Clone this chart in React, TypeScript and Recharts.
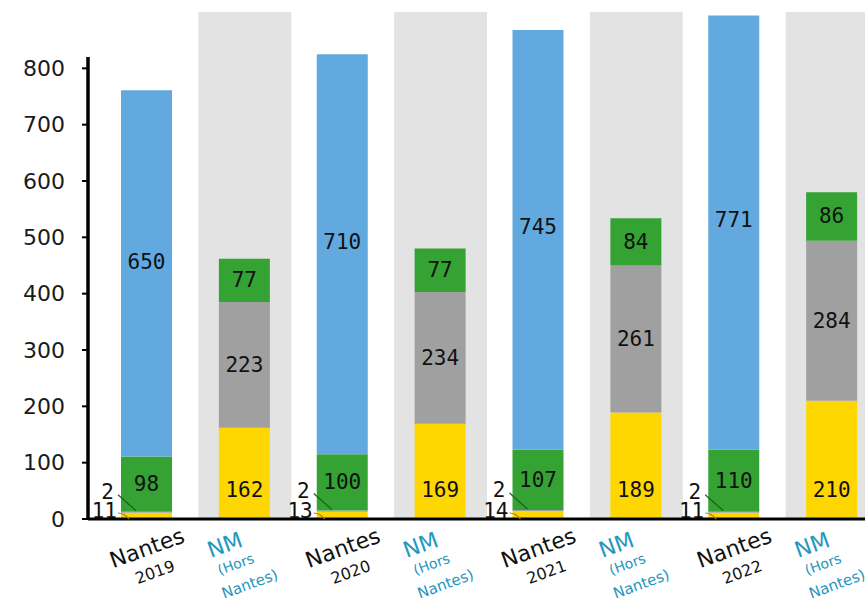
import React from "react";
import { BarChart, Bar, XAxis, YAxis, ReferenceArea, LabelList } from "recharts";

const categories = [
  "Nantes 2019",
  "NM (Hors Nantes) 2019",
  "Nantes 2020",
  "NM (Hors Nantes) 2020",
  "Nantes 2021",
  "NM (Hors Nantes) 2021",
  "Nantes 2022",
  "NM (Hors Nantes) 2022",
];
const yellowValues = [11, 162, 13, 169, 14, 189, 11, 210];
const grayValues = [2, 223, 2, 234, 2, 261, 2, 284];
const greenValues = [98, 77, 100, 77, 107, 84, 110, 86];
const blueValues = [650, null, 710, null, 745, null, 771, null];
const yTicks = [0, 100, 200, 300, 400, 500, 600, 700, 800];

const data = categories.map((cat, i) => ({
  cat,
  yellow: yellowValues[i],
  gray: grayValues[i],
  green: greenValues[i],
  blue: blueValues[i],
}));

const isNantes = (i: number) => categories[i]?.startsWith("Nantes");

const numStyle = {
  fontFamily: "'DejaVu Sans Mono', monospace",
  fontSize: 21,
  fill: "#111",
};

const box = (p: any) => p.viewBox || p;

const yellowLabel = (p: any) => {
  if (p.value == null) return null;
  const { x, y, width, height } = box(p);
  if (isNantes(p.index)) {
    const by = y + height;
    return (
      <g>
        <path
          d={`M${x - 3},${by - 6} Q${x + 3},${by - 6} ${x + 8},${by}`}
          stroke="#b07a00"
          strokeWidth={1.2}
          fill="none"
        />
        <text x={x - 4} y={by - 1} textAnchor="end" {...numStyle}>
          {p.value}
        </text>
      </g>
    );
  }
  return (
    <text x={x + width / 2} y={y + height - 29} textAnchor="middle" dominantBaseline="central" {...numStyle}>
      {p.value}
    </text>
  );
};

const grayLabel = (p: any) => {
  if (p.value == null) return null;
  const { x, y, width, height } = box(p);
  if (isNantes(p.index)) {
    return (
      <g>
        <line x1={x - 3} y1={y - 17} x2={x + 15} y2={y - 1} stroke="#1d5e1d" strokeWidth={1.2} />
        <text x={x - 7} y={y - 13} textAnchor="end" {...numStyle}>
          {p.value}
        </text>
      </g>
    );
  }
  return (
    <text x={x + width / 2} y={y + height / 2} textAnchor="middle" dominantBaseline="central" {...numStyle}>
      {p.value}
    </text>
  );
};

const centerLabel = (p: any) => {
  if (p.value == null) return null;
  const { x, y, width, height } = box(p);
  return (
    <text x={x + width / 2} y={y + height / 2} textAnchor="middle" dominantBaseline="central" {...numStyle}>
      {p.value}
    </text>
  );
};

const blueLabel = (p: any) => {
  if (p.value == null) return null;
  const { x, y, width, height } = box(p);
  return (
    <text x={x + width / 2} y={y + height * 0.47} textAnchor="middle" dominantBaseline="central" {...numStyle}>
      {p.value}
    </text>
  );
};

const XTick = (props: any) => {
  const { x, y, payload } = props;
  const v: string = payload.value;
  const line = (txt: string, dx: number, dy: number, size: number, color: string) => (
    <text
      x={x + dx}
      y={y + dy}
      textAnchor="middle"
      dominantBaseline="central"
      fontFamily="'DejaVu Sans', sans-serif"
      fontSize={size}
      fill={color}
      style={{ transform: "rotate(-20deg)", transformBox: "fill-box", transformOrigin: "center" }}
    >
      {txt}
    </text>
  );
  if (v.startsWith("Nantes")) {
    const year = v.split(" ")[1];
    return (
      <g>
        {line("Nantes", 0, 29, 22, "#111")}
        {line(year, 8, 53, 16, "#111")}
      </g>
    );
  }
  return (
    <g>
      {line("NM", -20, 26, 22, "#2596be")}
      {line("(Hors", -9, 45, 14, "#2596be")}
      {line("Nantes)", 5, 65, 15, "#2596be")}
    </g>
  );
};

const bandShape = (p: any) => (
  <rect x={p.x + 2.5} y={p.y} width={p.width - 5} height={p.height} fill="#e3e3e3" />
);

export default function App() {
  return (
    <div style={{ position: "absolute", left: 0, top: 0, width: 865, height: 603, overflow: "hidden", background: "#fff" }}>
      <BarChart
        width={890}
        height={603}
        data={data}
        margin={{ top: 12, right: 9, bottom: 5, left: 8 }}
      >
        {categories
          .filter((c) => !c.startsWith("Nantes"))
          .map((c) => (
            <ReferenceArea key={c} x1={c} x2={c} y1={0} y2={900} shape={bandShape} ifOverflow="visible" />
          ))}
        <XAxis
          dataKey="cat"
          interval={0}
          padding={{ left: 10, right: 0 }}
          tickLine={false}
          tickSize={0}
          tickMargin={0}
          height={79}
          axisLine={{ stroke: "#000", strokeWidth: 3 }}
          tick={(p: any) => <XTick {...p} />}
        />
        <YAxis
          type="number"
          domain={[0, 900]}
          ticks={yTicks}
          width={80}
          tickSize={6}
          tickMargin={17}
          tickLine={{ stroke: "#000", strokeWidth: 2 }}
          axisLine={{ stroke: "#000", strokeWidth: 3.5, strokeDasharray: "0 45 1000" }}
          tick={{ fontFamily: "'DejaVu Sans', sans-serif", fontSize: 22, fill: "#1a1a1a" }}
        />
        <Bar dataKey="yellow" stackId="a" fill="#ffd700" barSize={51} isAnimationActive={false}>
          <LabelList dataKey="yellow" content={yellowLabel} />
        </Bar>
        <Bar dataKey="gray" stackId="a" fill="#a0a0a0" barSize={51} isAnimationActive={false}>
          <LabelList dataKey="gray" content={grayLabel} />
        </Bar>
        <Bar dataKey="green" stackId="a" fill="#34a334" barSize={51} isAnimationActive={false}>
          <LabelList dataKey="green" content={centerLabel} />
        </Bar>
        <Bar dataKey="blue" stackId="a" fill="#62a9df" barSize={51} isAnimationActive={false}>
          <LabelList dataKey="blue" content={blueLabel} />
        </Bar>
      </BarChart>
    </div>
  );
}
